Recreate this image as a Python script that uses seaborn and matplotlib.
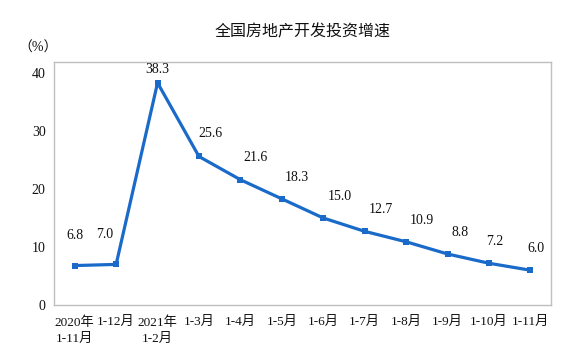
import matplotlib
matplotlib.use('Agg')
import matplotlib.pyplot as plt
import seaborn as sns
import numpy as np
import pandas as pd

sns.set_theme(style='white')
plt.rcParams['font.family'] = ['Liberation Serif', 'Noto Sans CJK SC']
plt.rcParams['axes.unicode_minus'] = False

# 数据
periods = ['2020年\n1-11月', '1-12月', '2021年\n1-2月', '1-3月', '1-4月', '1-5月',
           '1-6月', '1-7月', '1-8月', '1-9月', '1-10月', '1-11月']
growth = [6.8, 7.0, 38.3, 25.6, 21.6, 18.3, 15.0, 12.7, 10.9, 8.8, 7.2, 6.0]
# 数值标签偏移 (points)
label_dx = [0, -8, 0, 8, 11, 11, 12, 12, 11, 9, 4, 4]
label_dy = [17, 17, 5, 12, 11, 11, 11, 11, 11, 11, 11, 11]

df = pd.DataFrame({'x': np.arange(len(periods)), 'growth': growth})

fig = plt.figure(figsize=(5.8, 3.58), dpi=100)
ax = fig.add_axes([0.0931, 0.148, 0.857, 0.679])

blue = '#1a6ac9'
sns.lineplot(data=df, x='x', y='growth', ax=ax, color=blue, linewidth=2.3,
             marker='s', markersize=5, markeredgewidth=0, markerfacecolor=blue)

for i, v in enumerate(growth):
    ax.annotate(f'{v:.1f}', (i, v), xytext=(label_dx[i], label_dy[i]),
                textcoords='offset points', ha='center', va='bottom',
                fontsize=10, color='#111111')

ax.set_xlim(-0.5, len(periods) - 0.5)
ax.set_ylim(0, 41.9)
ax.set_yticks([0, 10, 20, 30, 40])
ax.set_xticks(np.arange(len(periods)))
ax.set_xticklabels(periods, fontsize=9.5, linespacing=1.5)
ax.set_xticks(np.arange(0.5, len(periods) - 1, 1), minor=True)
ax.tick_params(axis='x', which='major', length=0, pad=8, colors='#111111')
ax.tick_params(axis='x', which='minor', direction='in', length=4, color='#bfbfbf', width=1)
ax.tick_params(axis='y', which='major', direction='in', length=4, color='#bfbfbf',
               labelsize=10, pad=6, labelcolor='#111111')
ax.set_xlabel('')
ax.set_ylabel('')
for s in ax.spines.values():
    s.set_color('#bfbfbf')
    s.set_linewidth(1)
    s.set_visible(True)

fig.text(0.066, 0.866, '（%）', fontsize=10, ha='center', va='center', color='#111111')
fig.text(0.522, 0.91, '全国房地产开发投资增速', fontsize=11.5, ha='center', va='center',
         color='#111111')

fig.savefig('out.png', dpi=100)
